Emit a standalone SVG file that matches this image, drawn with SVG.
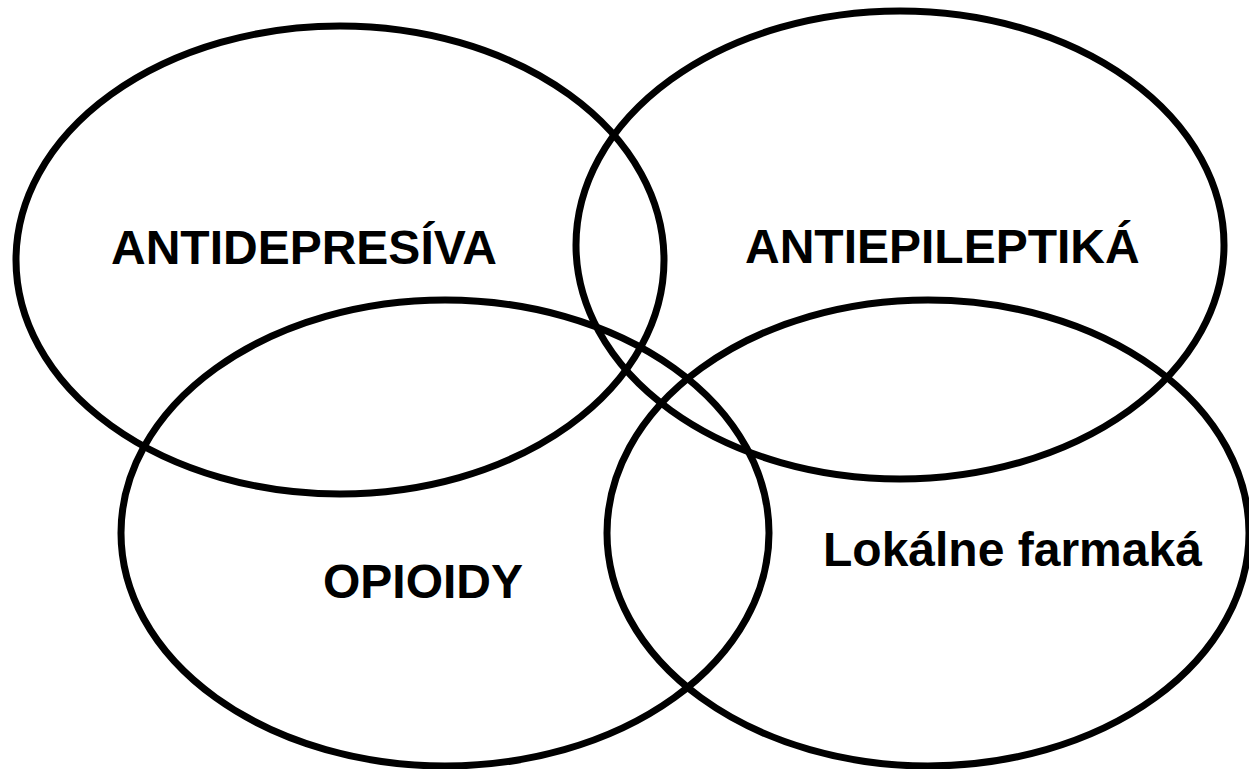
<svg xmlns="http://www.w3.org/2000/svg" width="1249" height="769" viewBox="0 0 1249 769">
<style>
.set{fill:none;stroke:#000;stroke-width:7}
.lbl{font-family:"Liberation Sans",Arial,sans-serif;font-weight:bold;font-size:48px;fill:#000}
</style>
<rect width="1249" height="769" fill="#fff"/>
<g id="antidepresiva">
<ellipse class="set" cx="340" cy="260" rx="324" ry="234"/>
<text class="lbl" x="111" y="264">ANTIDEPRESÍVA</text>
</g>
<g id="antiepileptika">
<ellipse class="set" cx="900" cy="245" rx="324" ry="234"/>
<text class="lbl" x="745" y="263">ANTIEPILEPTIKÁ</text>
</g>
<g id="opioidy">
<ellipse class="set" cx="445" cy="533" rx="324" ry="233"/>
<text class="lbl" x="323" y="598">OPIOIDY</text>
</g>
<g id="lokalne">
<ellipse class="set" cx="928" cy="533" rx="321" ry="233"/>
<text class="lbl" x="823" y="566">Lokálne farmaká</text>
</g>
<g id="connectors"></g>
</svg>
